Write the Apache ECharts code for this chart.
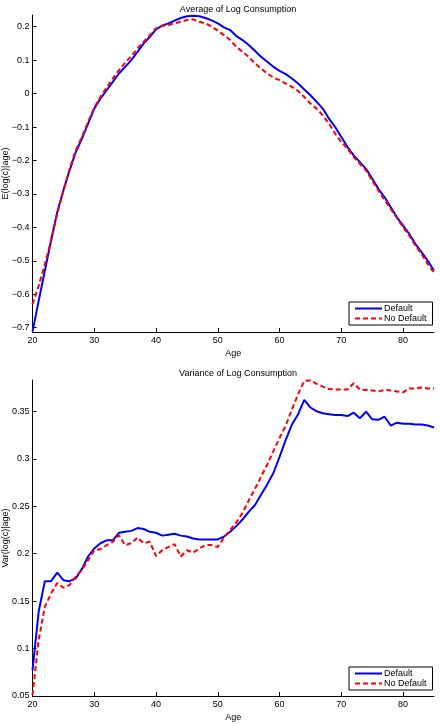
<!DOCTYPE html>
<html><head><meta charset="utf-8">
<script src="https://cdn.jsdelivr.net/npm/echarts@6/dist/echarts.min.js"></script>
<style>html,body{margin:0;padding:0;background:#fff}#c{width:440px;height:724px}</style>
</head><body><div id="c"></div>
<script>
const ages = [];
for (let a = 20; a <= 85; a++) ages.push(a);
const avgDefault = [-0.712,-0.62,-0.53,-0.44,-0.355,-0.29,-0.23,-0.175,-0.135,-0.09,
 -0.045,-0.015,0.01,0.035,0.06,0.08,0.10,0.125,0.15,0.17,
 0.192,0.203,0.21,0.218,0.226,0.231,0.233,0.231,0.226,0.219,
 0.21,0.198,0.19,0.172,0.16,0.145,0.128,0.11,0.095,0.08,
 0.068,0.058,0.045,0.03,0.012,-0.005,-0.025,-0.045,-0.075,-0.1,
 -0.13,-0.16,-0.185,-0.205,-0.225,-0.255,-0.285,-0.31,-0.34,-0.37,
 -0.395,-0.42,-0.45,-0.475,-0.5,-0.53];
const avgNoDefault = [-0.63,-0.575,-0.51,-0.44,-0.36,-0.29,-0.225,-0.17,-0.13,-0.085,
 -0.042,-0.01,0.018,0.045,0.07,0.092,0.112,0.135,0.155,0.175,
 0.195,0.203,0.205,0.21,0.215,0.22,0.222,0.215,0.21,0.2,
 0.188,0.175,0.16,0.14,0.125,0.11,0.09,0.075,0.06,0.048,
 0.04,0.03,0.02,0.008,-0.01,-0.03,-0.045,-0.065,-0.09,-0.12,
 -0.145,-0.165,-0.19,-0.21,-0.23,-0.26,-0.29,-0.318,-0.345,-0.372,
 -0.4,-0.425,-0.455,-0.48,-0.51,-0.535];
const varDefault = [0.077,0.139,0.171,0.171,0.18,0.172,0.171,0.174,0.184,0.197,
 0.2055,0.211,0.214,0.214,0.222,0.223,0.224,0.227,0.226,0.223,
 0.222,0.219,0.22,0.221,0.219,0.218,0.216,0.215,0.215,0.215,
 0.215,0.218,0.223,0.229,0.236,0.244,0.251,0.262,0.273,0.285,
 0.302,0.32,0.336,0.347,0.362,0.354,0.35,0.348,0.347,0.346,
 0.346,0.345,0.3485,0.3426,0.3496,0.3416,0.341,0.3443,0.335,0.338,
 0.337,0.337,0.336,0.336,0.335,0.333];
const varNoDefault = [0.051,0.109,0.144,0.158,0.169,0.164,0.167,0.1755,0.183,0.193,
 0.2036,0.2047,0.209,0.2125,0.2195,0.209,0.211,0.217,0.211,0.2125,
 0.1974,0.2036,0.207,0.21,0.197,0.2036,0.201,0.2055,0.209,0.209,
 0.207,0.217,0.225,0.233,0.243,0.256,0.268,0.281,0.294,0.308,
 0.322,0.335,0.352,0.368,0.382,0.3825,0.379,0.376,0.3735,0.373,
 0.373,0.373,0.3795,0.373,0.3725,0.372,0.371,0.3725,0.372,0.371,
 0.37,0.374,0.374,0.375,0.374,0.374];
const xTicks = [20,30,40,50,60,70,80];
const yTicksTop = [-0.7,-0.6,-0.5,-0.4,-0.3,-0.2,-0.1,0,0.1,0.2];
const yTicksBottom = [0.05,0.1,0.15,0.2,0.25,0.3,0.35];
const titles = ['Average of Log Consumption','Variance of Log Consumption'];
const yNames = ['E(log(c)|age)','Var(log(c)|age)'];
const seriesNames = ['Default','No Default'];

const FONT = 'Liberation Sans';
const BLUE = '#0000ff', RED = '#ff0000';
const pairs = arr => ages.map((a,i)=>[a,arr[i]]);
const fmt = v => { const s = String(+v.toFixed(2)); return s.startsWith('-') ? '\u2212'+s.slice(1) : s; };

function xAx(gi){
  return {type:'value', gridIndex:gi, min:20, max:85, name:'Age', nameLocation:'middle', nameGap:17,
    nameMoveOverlap:false,
    nameTextStyle:{fontFamily:FONT,fontSize:9,color:'#000'},
    axisLine:{onZero:false,lineStyle:{color:'#000',width:1}},
    axisTick:{inside:true,length:4,customValues:xTicks,lineStyle:{color:'#000'}},
    axisLabel:{customValues:xTicks,fontFamily:FONT,fontSize:9,color:'#000',margin:4},
    splitLine:{show:false}};
}
function yAx(gi,min,max,ticks){
  return {type:'value', gridIndex:gi, min:min, max:max, name:yNames[gi], nameLocation:'middle', nameGap:22,
    nameMoveOverlap:false,
    nameTextStyle:{fontFamily:FONT,fontSize:9,color:'#000'},
    axisLine:{show:true,onZero:false,lineStyle:{color:'#000',width:1}},
    axisTick:{show:true,inside:true,length:4,customValues:ticks,lineStyle:{color:'#000'}},
    axisLabel:{customValues:ticks,formatter:fmt,fontFamily:FONT,fontSize:9,color:'#000',margin:3},
    splitLine:{show:false}};
}
function legend(top){
  return {left:349, top:top, orient:'vertical', width:70, borderColor:'#000', borderWidth:1,
    padding:[2,6,2,5], itemGap:1, itemWidth:27, itemHeight:10, backgroundColor:'#fff',
    itemStyle:{opacity:0},
    textStyle:{fontFamily:FONT,fontSize:9,color:'#000',padding:[0,0,0,-3]},
    data:seriesNames};
}
function ser(name,data,gi,color,dashed){
  return {name:name,type:'line',xAxisIndex:gi,yAxisIndex:gi,data:pairs(data),symbol:'none',
    lineStyle:{color:color,width:2,type:dashed?[5,3]:'solid'},itemStyle:{color:color},
    animation:false,z:dashed?3:2};
}
const chart = echarts.init(document.getElementById('c'),null,{renderer:'canvas'});
chart.setOption({
  animation:false,
  title:[
    {text:titles[0],left:233,top:0,textAlign:'center',textStyle:{fontFamily:FONT,fontSize:9,fontWeight:'normal',color:'#000'}},
    {text:titles[1],left:233,top:364,textAlign:'center',textStyle:{fontFamily:FONT,fontSize:9,fontWeight:'normal',color:'#000'}}
  ],
  grid:[
    {left:32.5,right:6,top:15,height:317,containLabel:false,outerBoundsMode:'none'},
    {left:32.5,right:6,top:380,height:316,containLabel:false,outerBoundsMode:'none'}
  ],
  xAxis:[xAx(0),xAx(1)],
  yAxis:[yAx(0,-0.713,0.235,yTicksTop),yAx(1,0.05,0.383,yTicksBottom)],
  legend:[legend(302),legend(667)],
  series:[
    ser(seriesNames[0],avgDefault,0,BLUE,false),
    ser(seriesNames[1],avgNoDefault,0,RED,true),
    ser(seriesNames[0],varDefault,1,BLUE,false),
    ser(seriesNames[1],varNoDefault,1,RED,true)
  ]
});
</script></body></html>
